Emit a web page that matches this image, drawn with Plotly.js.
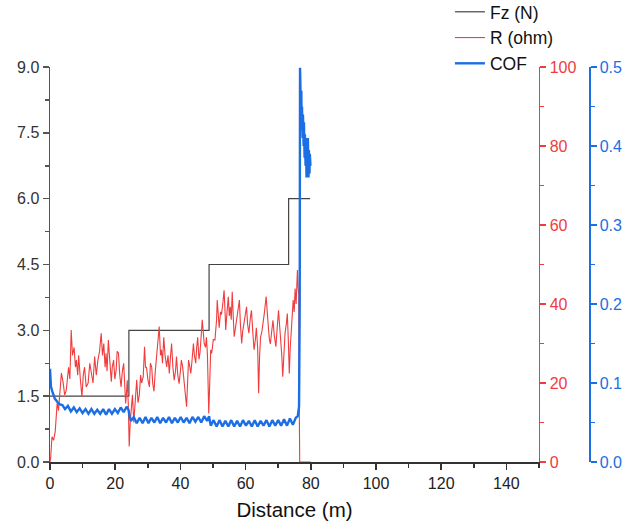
<!DOCTYPE html>
<html>
<head>
<meta charset="utf-8">
<script src="https://cdn.plot.ly/plotly-3.0.1.min.js"></script>
<style>html,body{margin:0;padding:0;background:#fff;}#chart{width:625px;height:526px;}</style>
</head>
<body>
<div id="chart"></div>
<script>
// Fz (N) – step load, drawn with hv steps
const fzX = [0, 24.2, 48.8, 73.2, 79.8];
const fzY = [1.5, 3.0, 4.5, 6.0, 6.0];

// R (ohm)
const rX = [0,0.2,0.6,1.1,1.6,1.9,2.2,2.6,3.0,3.5,4.0,4.5,5.0,5.7,6.1,6.5,6.9,7.4,7.8,8.1,8.5,8.8,9.3,9.8,10.2,10.6,11.1,11.7,12.2,12.7,13.2,13.7,14.2,14.7,15.2,15.7,16.1,16.5,16.9,17.2,17.5,17.9,18.3,18.8,19.1,19.5,19.9,20.3,20.6,21.0,21.4,21.8,22.2,22.6,22.9,23.2,23.5,23.7,24.0,24.3,24.6,24.9,25.3,25.7,26.1,26.6,27.0,27.4,27.8,28.1,28.6,29.0,29.3,29.6,30.0,30.5,30.8,31.2,31.5,31.9,32.3,32.7,33.1,33.5,33.9,34.2,34.5,34.9,35.3,35.8,36.2,36.6,36.9,37.3,37.7,38.1,38.5,38.8,39.2,39.6,40.0,40.3,40.7,41.0,41.4,41.9,42.2,42.5,42.9,43.2,43.6,44.0,44.3,44.7,45.0,45.3,45.7,46.0,46.3,46.7,47.0,47.3,47.7,48.0,48.3,48.7,49.0,49.3,49.6,50.1,50.6,51.1,51.3,51.6,51.9,52.3,52.6,53.0,53.4,53.7,53.9,54.3,54.7,55.0,55.3,55.6,55.9,56.2,56.5,56.9,57.2,57.6,58.1,58.4,58.8,59.1,59.5,59.9,60.3,60.6,61.0,61.4,61.8,62.2,62.6,63.0,63.3,63.7,64.0,64.3,64.6,65.0,65.4,65.8,66.3,66.6,67.0,67.3,67.6,68.0,68.4,68.8,69.3,69.7,70.1,70.4,70.8,71.1,71.4,71.8,72.1,72.5,72.8,73.1,73.4,73.7,74.0,74.3,74.6,74.9,75.2,75.5,75.9,76.1,76.3,76.5,76.6,80.0];
const rY = [0,1,6.4,5.5,7.7,10.6,15,13,17.8,22.5,20.3,17,18.2,24,21,33.4,27,29,24,25.8,22,27,21,16.5,22,24,19,20,25,22.5,20,26.7,22,25.8,28,32.6,27,30,24,27.5,23,30.9,26,20.3,24,25.8,21,23.3,28,27.6,22,19,23,25,20,14.8,18,20.7,15,3.9,10,13.2,17,10,16,20.8,15,16.9,22,20,21.6,29.2,24,24,21,19,25,24,20,17.9,23,26.7,29,34.3,27,28.4,25,31.6,27,24.1,27,22.4,26,30,24,20.7,23,26.7,22,19.8,23,25.8,24,21.6,18,14,20,25.8,24,22.4,26,30,27,25,29,31.6,26,27.6,31,36,33,30,29,31.6,27,12.3,20,28.4,27.5,31,30.9,36,41,37,34,38,37.3,40,43.5,38,33.4,38,41.8,37,39.3,36,43.1,37,31.7,34,35.9,39,41,35,30,33,35.1,37,39.3,35,32.6,36,38.4,33,28.4,31,34,29,17.4,27,31.7,33,35.1,38,41.9,37,34,31,29.9,33,35.9,32,29.2,34,38.4,35,31,27,21.6,28,32.6,35,37.6,31,22.4,29,34,37,41,38,43.9,40,48.6,44,42.7,10.6,0,0];

// COF
const cofX = [0,0.3,0.8,1.5,2.3,3.0,3.8,4.6,5.5,6.4,7.3,8.2,9.1,10.0,10.9,11.8,12.7,13.6,14.5,15.4,16.3,17.2,18.1,19.0,19.9,20.8,21.7,22.6,23.5,24.1,24.4,24.8,25.7,26.6,27.5,28.4,29.3,30.2,31.1,32.0,32.9,33.8,34.7,35.6,36.5,37.4,38.3,39.2,40.1,41.0,41.9,42.8,43.7,44.6,45.5,46.4,47.3,48.2,48.8,49.3,50.2,51.1,52.0,52.9,53.8,54.7,55.6,56.5,57.4,58.3,59.2,60.1,61.0,61.9,62.8,63.7,64.6,65.5,66.4,67.3,68.2,69.1,70.0,70.9,71.8,72.7,73.6,74.5,75.4,76.0,76.4,76.6,76.7,76.8,76.9,77.0,77.1,77.2,77.3,77.5,77.6,77.8,77.9,78.1,78.2,78.4,78.5,78.7,78.8,79.0,79.1,79.3,79.4,79.6,79.7,79.9];
const cofY = [0.118,0.095,0.088,0.080,0.076,0.073,0.072,0.067,0.071,0.064,0.069,0.063,0.068,0.062,0.067,0.061,0.067,0.061,0.066,0.061,0.067,0.060,0.067,0.061,0.067,0.062,0.069,0.063,0.070,0.066,0.058,0.052,0.057,0.049,0.056,0.049,0.057,0.049,0.056,0.050,0.057,0.049,0.056,0.050,0.057,0.049,0.056,0.050,0.057,0.050,0.056,0.049,0.057,0.051,0.057,0.050,0.058,0.052,0.058,0.046,0.053,0.045,0.053,0.045,0.052,0.045,0.053,0.045,0.052,0.045,0.053,0.046,0.052,0.045,0.053,0.045,0.052,0.046,0.053,0.045,0.053,0.046,0.053,0.046,0.054,0.046,0.055,0.047,0.056,0.058,0.070,0.20,0.499,0.46,0.48,0.44,0.47,0.42,0.45,0.41,0.44,0.40,0.43,0.385,0.415,0.375,0.41,0.36,0.405,0.365,0.41,0.36,0.395,0.365,0.39,0.375];

const FONT = "Arial, 'Liberation Sans', sans-serif";
const RED = 'rgb(240,60,60)';
const BLUE = 'rgb(28,110,228)';
const AX = '#333333';

const traces = [
  {x: fzX, y: fzY, name: 'Fz (N)', type: 'scatter', mode: 'lines', line: {color: '#444444', width: 1.2, shape: 'hv'}, yaxis: 'y'},
  {x: rX, y: rY, name: 'R (ohm)', type: 'scatter', mode: 'lines', line: {color: RED, width: 1.1}, yaxis: 'y2'},
  {x: cofX, y: cofY, name: 'COF', type: 'scatter', mode: 'lines', line: {color: BLUE, width: 2.4}, yaxis: 'y3'}
];

const layout = {
  width: 625, height: 526,
  margin: {l: 50, r: 36, t: 67, b: 64, autoexpand: false},
  paper_bgcolor: '#fff', plot_bgcolor: '#fff',
  font: {family: FONT, size: 16, color: '#222'},
  showlegend: true,
  legend: {x: 0.742, y: 1.185, xanchor: 'left', yanchor: 'top', font: {size: 17.5, color: '#111'}, bgcolor: 'rgba(0,0,0,0)', tracegroupgap: 0},
  xaxis: {
    domain: [0, 0.9072], range: [0, 150], tick0: 0, dtick: 20,
    ticks: 'outside', ticklen: 6, tickwidth: 1.5, tickcolor: AX,
    showline: true, linecolor: AX, linewidth: 1.5, showgrid: false, zeroline: false,
    minor: {dtick: 10, ticks: 'outside', ticklen: 4, tickwidth: 1.5, tickcolor: AX},
    tickfont: {size: 16, color: '#222'},
    title: {text: 'Distance (m)', font: {size: 20.5, color: '#111'}, standoff: 12}
  },
  yaxis: {
    range: [0, 9], tick0: 0, dtick: 1.5, tickformat: '.1f',
    ticks: 'outside', ticklen: 6, tickwidth: 1.5, tickcolor: '#555',
    showline: true, linecolor: '#555', linewidth: 1.5, showgrid: false, zeroline: false,
    minor: {dtick: 0.75, ticks: 'outside', ticklen: 4, tickwidth: 1.5, tickcolor: '#555'},
    tickfont: {size: 16, color: '#333'}
  },
  yaxis2: {
    overlaying: 'y', side: 'right', anchor: 'x',
    range: [0, 100], tick0: 0, dtick: 20,
    ticks: 'outside', ticklen: 6, tickwidth: 1.5, tickcolor: RED,
    showline: true, linecolor: RED, linewidth: 1.5, showgrid: false, zeroline: false,
    minor: {dtick: 10, ticks: 'outside', ticklen: 4, tickwidth: 1.5, tickcolor: RED},
    tickfont: {size: 16, color: RED}
  },
  yaxis3: {
    overlaying: 'y', side: 'right', anchor: 'free', position: 1,
    range: [0, 0.5], tick0: 0, dtick: 0.1, tickformat: '.1f',
    ticks: 'outside', ticklen: 6, tickwidth: 1.5, tickcolor: BLUE,
    showline: true, linecolor: BLUE, linewidth: 1.5, showgrid: false, zeroline: false,
    minor: {dtick: 0.05, ticks: 'outside', ticklen: 4, tickwidth: 1.5, tickcolor: BLUE},
    tickfont: {size: 16, color: BLUE}
  }
};

Plotly.newPlot('chart', traces, layout, {displayModeBar: false, staticPlot: true});
</script>
</body>
</html>
